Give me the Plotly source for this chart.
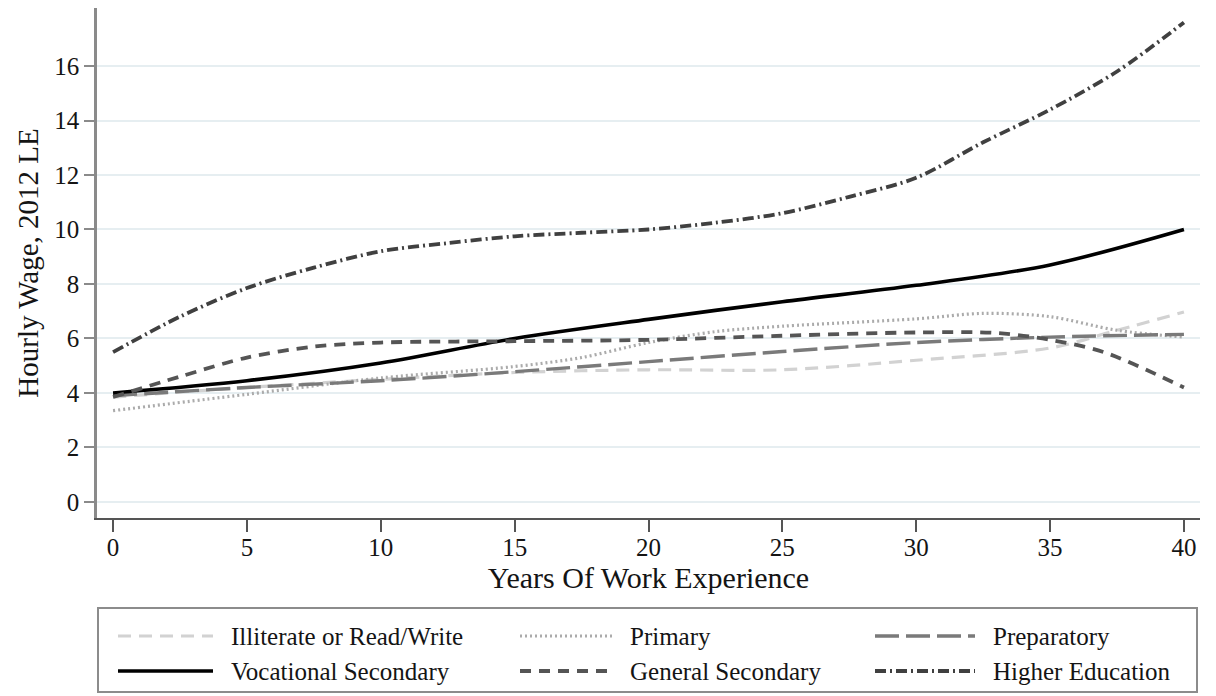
import plotly.graph_objects as go

# Years of work experience at which each wage profile was read
exp_illit = [0, 5, 10, 15, 20, 25, 30, 35, 37.5, 40]
wage_illit = [3.85, 4.2, 4.5, 4.75, 4.85, 4.85, 5.2, 5.65, 6.3, 6.97]

exp_primary = [0, 5, 10, 15, 17.5, 20, 22.5, 25, 30, 32.5, 35, 37.5, 40]
wage_primary = [3.35, 3.95, 4.55, 4.97, 5.3, 5.85, 6.25, 6.45, 6.72, 6.92, 6.8, 6.3, 6.05]

exp_prep = [0, 5, 10, 15, 20, 25, 30, 35, 40]
wage_prep = [3.9, 4.2, 4.45, 4.78, 5.15, 5.52, 5.85, 6.05, 6.15]

exp_voc = [0, 5, 10, 15, 20, 25, 30, 35, 40]
wage_voc = [4.0, 4.45, 5.1, 6.0, 6.7, 7.35, 7.95, 8.7, 10.0]

exp_gensec = [0, 2.5, 5, 7.5, 10, 15, 20, 25, 30, 33, 35, 37, 40]
wage_gensec = [3.85, 4.6, 5.3, 5.7, 5.85, 5.9, 5.95, 6.1, 6.22, 6.2, 5.95, 5.5, 4.2]

exp_higher = [0, 2.5, 5, 7.5, 10, 12.5, 15, 17.5, 20, 22.5, 25, 27.5, 30, 32.5, 35, 37.5, 40]
wage_higher = [5.5, 6.8, 7.85, 8.6, 9.2, 9.5, 9.75, 9.88, 10.0, 10.25, 10.6, 11.2, 11.9, 13.2, 14.4, 15.8, 17.6]

series_names = ["Illiterate or Read/Write", "Primary", "Preparatory",
                "Vocational Secondary", "General Secondary", "Higher Education"]

y_ticks = [0, 2, 4, 6, 8, 10, 12, 14, 16]
x_ticks = [0, 5, 10, 15, 20, 25, 30, 35, 40]

series = [
    (exp_illit, wage_illit),
    (exp_primary, wage_primary),
    (exp_prep, wage_prep),
    (exp_voc, wage_voc),
    (exp_gensec, wage_gensec),
    (exp_higher, wage_higher),
]

styles = [
    dict(color="#d2d2d2", width=3.2, dash="13px,8px"),
    dict(color="#ababab", width=3.2, dash="2px,3px"),
    dict(color="#7a7a7a", width=3.4, dash="24px,7px"),
    dict(color="#000000", width=3.6, dash="solid"),
    dict(color="#555555", width=3.8, dash="11px,8px"),
    dict(color="#404040", width=3.8, dash="11px,4px,2px,4px"),
]

FONT = "Liberation Serif"
TEXT = "#141414"

fig = go.Figure()

for (xs, ys), name, st in zip(series, series_names, styles):
    fig.add_trace(go.Scatter(
        x=xs, y=ys, mode="lines", name=name,
        line=dict(shape="spline", smoothing=0.9, **st),
        showlegend=False, xaxis="x", yaxis="y",
    ))

# Legend panel: sample line segments drawn on a small helper axis (units = px)
legend_cols = [(21, 116), (423, 515), (778, 878)]
legend_rows = [57, 22]
for i, (name, st) in enumerate(zip(series_names, styles)):
    row, col = divmod(i, 3)
    x0, x1 = legend_cols[col]
    yy = legend_rows[row]
    fig.add_trace(go.Scatter(
        x=[x0, x1], y=[yy, yy], mode="lines",
        line=dict(**st), showlegend=False, hoverinfo="skip",
        xaxis="x2", yaxis="y2",
    ))
    fig.add_annotation(
        x=x1 + 16, y=yy, xref="x2", yref="y2", text=name,
        showarrow=False, xanchor="left", yanchor="middle",
        font=dict(family=FONT, size=25, color=TEXT),
    )

H_PLOT = 685.0
main_bottom = (693 - 518) / H_PLOT

fig.update_layout(
    width=1216, height=696,
    margin=dict(l=97, r=16, t=8, b=3),
    paper_bgcolor="white", plot_bgcolor="white",
    font=dict(family=FONT, size=25, color=TEXT),
    xaxis=dict(
        domain=[0, 1], range=[-0.6, 40.6],
        tickmode="array", tickvals=x_ticks, ticktext=[str(v) for v in x_ticks],
        ticks="outside", ticklen=12, tickwidth=2, tickcolor="#555555",
        ticklabelstandoff=-6,
        showline=True, linecolor="#555555", linewidth=2,
        showgrid=False, zeroline=False,
        tickfont=dict(family=FONT, size=25, color=TEXT),
        title=dict(text="Years Of Work Experience", standoff=0,
                   font=dict(family=FONT, size=30, color=TEXT)),
        anchor="y",
    ),
    yaxis=dict(
        domain=[main_bottom, 1], range=[-0.59, 18.13],
        tickmode="array", tickvals=y_ticks, ticktext=[str(v) for v in y_ticks],
        ticks="outside", ticklen=10, tickwidth=2, tickcolor="#8a8a8a",
        showline=True, linecolor="#8a8a8a", linewidth=2.5,
        showgrid=True, gridcolor="#e6eef1", gridwidth=1.5,
        zeroline=False,
        tickfont=dict(family=FONT, size=25, color=TEXT),
        title=dict(text="Hourly Wage, 2012 LE", standoff=8,
                   font=dict(family=FONT, size=29, color=TEXT)),
        anchor="x",
    ),
    xaxis2=dict(domain=[0, 1], range=[0, 1103], visible=False, anchor="y2", fixedrange=True),
    yaxis2=dict(domain=[0, (693 - 607) / H_PLOT], range=[0, 86], visible=False,
                anchor="x2", fixedrange=True),
)

# Legend frame
fig.add_shape(type="rect", xref="x2", yref="y2", x0=1, x1=1100, y0=1, y1=85,
              line=dict(color="#8c8c8c", width=2), fillcolor="rgba(0,0,0,0)")

fig.write_html("out.html")
